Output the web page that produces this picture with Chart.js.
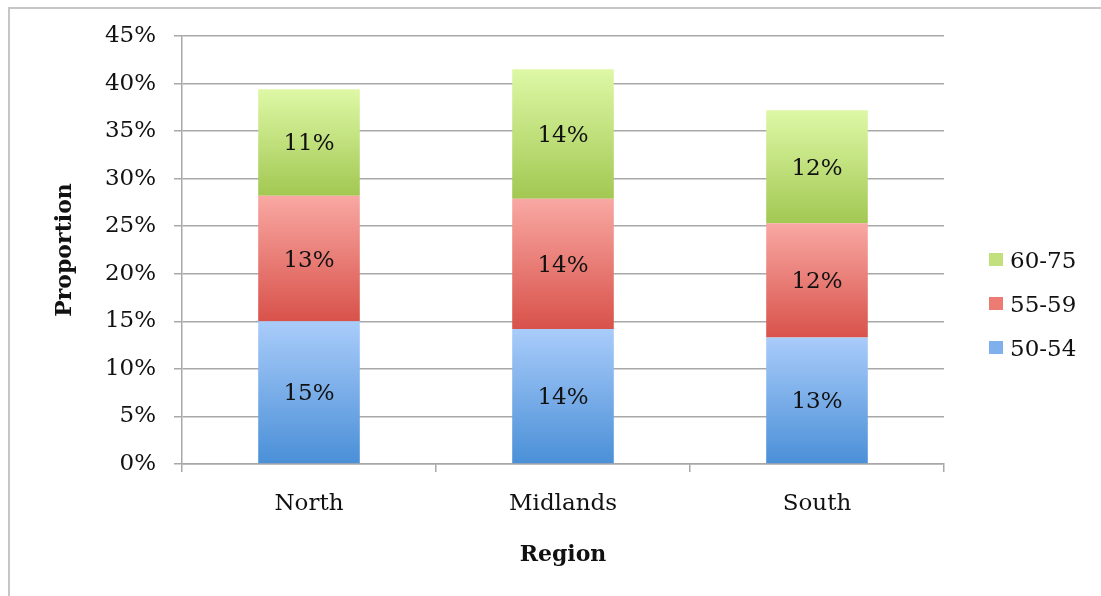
<!DOCTYPE html>
<html>
<head>
<meta charset="utf-8">
<script src="https://cdn.jsdelivr.net/npm/chart.js@4"></script>
<style>
  html, body { margin: 0; padding: 0; background: #fff; overflow: hidden; }
  #wrap { position: relative; width: 1101px; height: 596px; overflow: hidden; }
  #frame { position: absolute; left: 8px; top: 7px; width: 1120px; height: 620px; border-top: 2px solid #c6c6c6; border-left: 2px solid #c6c6c6; }
  canvas { position: absolute; left: 0; top: 0; }
</style>
</head>
<body>
<div id="wrap"><div id="frame"></div><canvas id="chart" width="1101" height="596"></canvas></div>
<script>
const regions = ['North', 'Midlands', 'South'];
const ageGroups = ['50-54', '55-59', '60-75'];
const share5054 = [15.0, 14.2, 13.3];
const share5559 = [13.2, 13.7, 12.0];
const share6075 = [11.2, 13.6, 11.9];

// gradient stops per series, top -> bottom
const topColors = ['#a9ccfa', '#f9a8a3', '#def8a6'];
const bottomColors = ['#4a8fd7', '#d8524a', '#a2c852'];
const legendColors = ['#7fb0ec', '#ec7b74', '#c2e07e'];

const gridColor = '#a8a8a8';
const textColor = '#111111';
const fontFamily = '"DejaVu Serif", serif';

function barGradient(d) {
  return (context) => {
    const chart = context.chart;
    const y = chart.scales.y;
    if (!y || context.type !== 'data') return bottomColors[d];
    const i = context.dataIndex;
    let start = 0;
    for (let k = 0; k < d; k++) start += chart.data.datasets[k].data[i];
    const end = start + chart.data.datasets[d].data[i];
    const y0 = y.getPixelForValue(end);
    const y1 = y.getPixelForValue(start);
    if (!isFinite(y0) || !isFinite(y1)) return bottomColors[d];
    const g = chart.ctx.createLinearGradient(0, y0, 0, y1);
    g.addColorStop(0, topColors[d]);
    g.addColorStop(1, bottomColors[d]);
    return g;
  };
}

// value labels in the middle of each segment
const segmentLabels = {
  id: 'segmentLabels',
  afterDatasetsDraw(chart) {
    const ctx = chart.ctx;
    ctx.save();
    ctx.font = '23px ' + fontFamily;
    ctx.fillStyle = textColor;
    ctx.textAlign = 'center';
    ctx.textBaseline = 'middle';
    chart.data.datasets.forEach((ds, d) => {
      chart.getDatasetMeta(d).data.forEach((bar, i) => {
        const p = bar.getProps(['x', 'y', 'base'], true);
        ctx.fillText(Math.round(ds.data[i]) + '%', p.x, (p.y + p.base) / 2 + 2);
      });
    });
    ctx.restore();
  }
};

// legend at the right, top item = last series
const sideLegend = {
  id: 'sideLegend',
  afterDraw(chart) {
    const ctx = chart.ctx;
    const area = chart.chartArea;
    ctx.save();
    ctx.font = '23px ' + fontFamily;
    ctx.textAlign = 'left';
    ctx.textBaseline = 'middle';
    const n = chart.data.datasets.length;
    for (let k = 0; k < n; k++) {
      const d = n - 1 - k;
      const cy = area.top + 224 + k * 44;
      ctx.fillStyle = legendColors[d];
      ctx.fillRect(area.right + 45, cy - 7, 14, 13);
      ctx.fillStyle = textColor;
      ctx.fillText(chart.data.datasets[d].label, area.right + 66, cy + 2);
    }
    ctx.restore();
  }
};

const series = [share5054, share5559, share6075];

new Chart(document.getElementById('chart'), {
  type: 'bar',
  data: {
    labels: regions,
    datasets: series.map((values, d) => ({
      label: ageGroups[d],
      data: values,
      backgroundColor: barGradient(d),
      borderWidth: 0,
      barPercentage: 0.4,
      categoryPercentage: 1.0
    }))
  },
  options: {
    responsive: false,
    animation: false,
    events: [],
    layout: { padding: { left: 52, right: 157, top: 36, bottom: 28 } },
    plugins: {
      legend: { display: false },
      tooltip: { enabled: false }
    },
    scales: {
      x: {
        stacked: true,
        afterFit: (s) => { s.height = 104; },
        grid: { display: true, drawOnChartArea: false, drawTicks: true, tickLength: 8, color: gridColor, lineWidth: 1.5, offset: true },
        border: { display: true, color: gridColor, width: 1.5 },
        ticks: { color: textColor, font: { family: fontFamily, size: 23 }, padding: 18 },
        title: { display: true, text: 'Region', color: textColor, font: { family: fontFamily, size: 22, weight: 'bold' }, padding: { top: 0, bottom: 0 } }
      },
      y: {
        stacked: true,
        min: 0,
        max: 45,
        afterFit: (s) => { s.width = 130; },
        grid: { color: gridColor, lineWidth: 1.5, drawTicks: true, tickLength: 8 },
        border: { display: true, color: gridColor, width: 1.5 },
        ticks: {
          stepSize: 5,
          color: textColor,
          font: { family: fontFamily, size: 23 },
          padding: 18,
          callback: (v) => v + '%'
        },
        title: { display: true, text: 'Proportion', color: textColor, font: { family: fontFamily, size: 22, weight: 'bold' }, padding: { top: 0, bottom: 0 } }
      }
    }
  },
  plugins: [segmentLabels, sideLegend]
});
</script>
</body>
</html>
